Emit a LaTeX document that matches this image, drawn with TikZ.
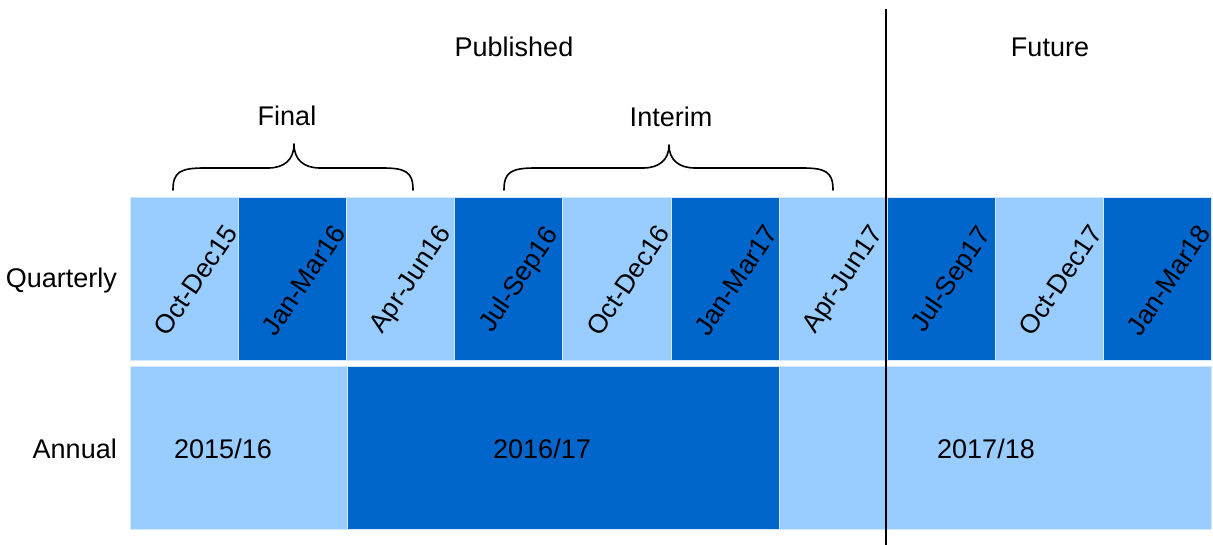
\documentclass[tikz,border=0pt]{standalone}
\usepackage{fontspec}
\setmainfont{Liberation Sans}
\definecolor{lightq}{HTML}{99CCFF}
\definecolor{darkq}{HTML}{0066CC}
\begin{document}
\begin{tikzpicture}[x=1pt,y=-1pt,
  cell/.style={draw=white!55!lightq, line width=0.8pt, inner sep=0pt, anchor=north west,
               minimum height=163pt},
  qcell/.style={cell, minimum width=108.1pt},
  lightcell/.style={fill=lightq},
  darkcell/.style={fill=darkq},
  qlabel/.style={rotate=56, font=\fontsize{26.5}{30}\selectfont, inner sep=0pt},
  lbl/.style={font=\fontsize{27}{32}\selectfont, inner sep=0pt},
  brace/.style={line width=1.6pt, line cap=round, line join=round},
  divider/.style={line width=2.6pt}]
  \useasboundingbox (0,0) rectangle (1213,545);

  % quarterly row
  \foreach \i/\t/\s in {0/Oct-Dec15/lightcell, 1/Jan-Mar16/darkcell, 2/Apr-Jun16/lightcell,
      3/Jul-Sep16/darkcell, 4/Oct-Dec16/lightcell, 5/Jan-Mar17/darkcell, 6/Apr-Jun17/lightcell,
      7/Jul-Sep17/darkcell, 8/Oct-Dec17/lightcell, 9/Jan-Mar18/darkcell} {
    \node[qcell, \s] (q\i) at (130+108.1*\i, 197) {};
    \node[qlabel, xshift=5pt, yshift=-10pt] (qt\i) at (q\i.center) {\t};
  }

  % annual row
  \node[cell, lightcell, minimum width=217pt] (a1) at (130,366) {};
  \node[cell, darkcell, minimum width=432pt] (a2) at (347,366) {};
  \node[cell, lightcell, minimum width=432pt] (a3) at (779,366) {};
  \node[lbl, anchor=base] (at1) at (223,458) {2015/16};
  \node[lbl, anchor=base] (at2) at (542,458) {2016/17};
  \node[lbl, anchor=base] (at3) at (986,458) {2017/18};

  % row titles
  \node[lbl, anchor=base east] (rq) at (117,288) {Quarterly};
  \node[lbl, anchor=base east] (ra) at (117,458) {Annual};

  % group titles
  \node[lbl, anchor=base] (pub) at (514,57) {Published};
  \node[lbl, anchor=base] (fut) at (1050,57) {Future};
  \node[lbl, anchor=base] (fin) at (287,126) {Final};
  \node[lbl, anchor=base] (int) at (671,127) {Interim};

  % braces
  \draw[brace] (173,190) .. controls (173,172) and (180,168) .. (205,168) -- (268,168)
     .. controls (284,168) and (294,160) .. (294,144)
     .. controls (294,160) and (304,168) .. (320,168) -- (382,168)
     .. controls (406,168) and (413,172) .. (413,190);
  \draw[brace] (504,190) .. controls (504,172) and (511,168) .. (536,168) -- (643,168)
     .. controls (659,168) and (669,160) .. (669,145)
     .. controls (669,160) and (679,168) .. (695,168) -- (802,168)
     .. controls (826,168) and (833,172) .. (833,190);

  % published / future divider
  \coordinate (dtop) at (886,9);
  \coordinate (dbot) at (886,545);
  \draw[divider] (dtop) -- (dbot);
\end{tikzpicture}
\end{document}
